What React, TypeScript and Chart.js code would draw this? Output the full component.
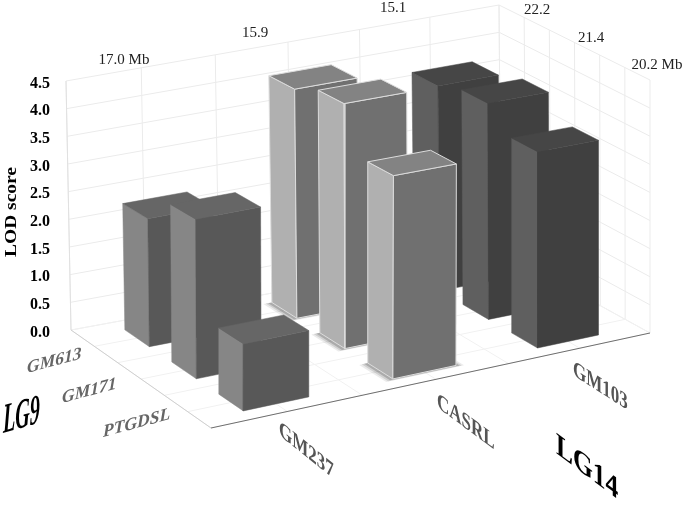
import React, { useEffect, useRef } from "react";
import { Chart, registerables } from "chart.js";

Chart.register(...registerables);

// ---- data ----
const rowLabels = ["GM613", "GM171", "PTGDSL"];
const colLabels = ["GM237", "CASRL", "GM103"];
const lodGM237 = [2.27, 2.76, 1.13];
const lodCASRL = [4.1, 4.3, 3.5];
const lodGM103 = [3.7, 3.85, 3.45];
const lodTicks = [0, 0.5, 1, 1.5, 2, 2.5, 3, 3.5, 4, 4.5];
const leftWallLabels = ["17.0 Mb", "15.9", "15.1"];
const rightWallLabels = ["22.2", "21.4", "20.2 Mb"];

// ---- projection of the box (u along the front edge, v towards the back, z = LOD) ----
const Z_MAX = 4.5;
const floorB = [211, 428], floorC = [650, 333], floorA = [71, 330], floorD = [501, 251];
const topB = [213, 158], topC = [650, 80], topA = [66, 81], topD = [499, 5];
const Y0_PX = 330;
const PX_PER_LOD = (330 - 81) / 4.5;
const HEIGHT = 507;
const PERSPECTIVE_U = 1.052;

const bil = (p: number[][], u: number, v: number, k: number) =>
  p[0][k] * (1 - u) * (1 - v) + p[1][k] * u * (1 - v) + p[2][k] * (1 - u) * v + p[3][k] * u * v;

function project(uIn: number, v: number, z: number) {
  const u = (PERSPECTIVE_U * uIn) / (1 + (PERSPECTIVE_U - 1) * uIn);
  const t = z / Z_MAX;
  const f = [floorB, floorC, floorA, floorD];
  const c = [topB, topC, topA, topD];
  const px = bil(f, u, v, 0) * (1 - t) + bil(c, u, v, 0) * t;
  const py = bil(f, u, v, 1) * (1 - t) + bil(c, u, v, 1) * t;
  // pixel position expressed in the chart's own data units
  return { x: px, y: (Y0_PX - py) / PX_PER_LOD };
}

const face = (pts: { x: number; y: number }[], color: string, edge?: string) => ({
  data: [...pts, pts[0]],
  showLine: true,
  fill: "shape",
  backgroundColor: color,
  borderColor: edge ?? color,
  borderWidth: edge ? 1 : 0.5,
  pointRadius: 0,
  clip: false,
});

const rule = (a: { x: number; y: number }, b: { x: number; y: number }, color: string, w = 1) => ({
  data: [a, b],
  showLine: true,
  fill: false,
  borderColor: color,
  borderWidth: w,
  pointRadius: 0,
  clip: false,
});

const palettes = [
  { left: "#868686", right: "#585858", top: "#666666" },
  { left: "#b0b0b0", right: "#707070", top: "#838383", edge: "#dcdcdc", shadow: true },
  { left: "#5f5f5f", right: "#404040", top: "#464646" },
];

const HALF_U = 0.072;
const HALF_V = 0.087;

function buildDatasets() {
  const out: any[] = [];
  const GRID = "#ebebeb";
  const FLOOR = "#f1f1f1";
  // walls
  for (const z of lodTicks) {
    out.push(rule(project(0, 1, z), project(1, 1, z), GRID));
    out.push(rule(project(1, 1, z), project(1, 0, z), GRID));
  }
  for (let i = 0; i <= 6; i++) {
    out.push(rule(project(i / 6, 1, 0), project(i / 6, 1, Z_MAX), GRID));
    out.push(rule(project(1, i / 6, 0), project(1, i / 6, Z_MAX), GRID));
    out.push(rule(project(i / 6, 0, 0), project(i / 6, 1, 0), FLOOR));
    out.push(rule(project(0, i / 6, 0), project(1, i / 6, 0), FLOOR));
  }
  // left wall's near vertical edge and floor edges
  out.push(rule(project(0, 1, 0), project(0, 1, Z_MAX), "#e0e0e0"));
  out.push(rule(project(0, 0, 0), project(0, 1, 0), "#cfcfcf"));
  out.push(rule(project(0, 0, 0), project(1, 0, 0), "#6e6e6e"));

  const cols = [lodGM237, lodCASRL, lodGM103];
  // far rows first, far columns first (v = 5/6 is GM613)
  for (let r = 0; r < rowLabels.length; r++) {
    const v = (5 - 2 * r) / 6;
    for (let c = cols.length - 1; c >= 0; c--) {
      const u = (1 + 2 * c) / 6;
      const z = cols[c][r];
      const pal: any = palettes[c];
      const u0 = u - HALF_U, u1 = u + HALF_U, v0 = v - HALF_V, v1 = v + HALF_V;
      if (pal.shadow) {
        for (const [g, a] of [[0.014, 0.1], [0.01, 0.16], [0.006, 0.25]]) {
          out.push(
            face(
              [project(u0 - g * 1.4, v1, 0), project(u0 - g * 1.4, v0 - g, 0), project(u1 + g, v0 - g, 0), project(u1 + g, v1, 0)],
              `rgba(60,60,60,${a})`,
              "rgba(0,0,0,0)"
            )
          );
        }
      }
      out.push(face([project(u0, v0, 0), project(u0, v1, 0), project(u0, v1, z), project(u0, v0, z)], pal.left, pal.edge));
      out.push(face([project(u0, v0, 0), project(u1, v0, 0), project(u1, v0, z), project(u0, v0, z)], pal.right, pal.edge));
      out.push(face([project(u0, v0, z), project(u1, v0, z), project(u1, v1, z), project(u0, v1, z)], pal.top, pal.edge));
    }
  }
  return out.reverse(); // Chart.js paints the first dataset last
}

// ---- text layout ----
const SERIF = '"Liberation Serif", "Times New Roman", serif';
const wallLabelPos = [[124, 60], [255, 33], [393, 8], [537, 10], [591, 38], [657, 65]];
const rowLabelPos = [[27, 373], [62, 403], [103, 437]];
const colLabelPos = [[279, 435, 0.8], [437, 407, 0.74], [573, 375, 0.64]];

const textPlugin = {
  id: "boxText",
  afterDatasetsDraw(chart: any) {
    const ctx: CanvasRenderingContext2D = chart.ctx;
    ctx.save();

    ctx.fillStyle = "#222";
    ctx.font = `15px ${SERIF}`;
    ctx.textAlign = "center";
    ctx.textBaseline = "middle";
    [...leftWallLabels, ...rightWallLabels].forEach((t, i) => {
      ctx.fillText(t, wallLabelPos[i][0], wallLabelPos[i][1]);
    });

    ctx.save();
    ctx.translate(12, 212);
    ctx.rotate(-Math.PI / 2);
    ctx.scale(1.18, 1);
    ctx.fillStyle = "#000";
    ctx.font = `bold 16.5px ${SERIF}`;
    ctx.fillText("LOD score", 0, 0);
    ctx.restore();

    ctx.textAlign = "left";
    ctx.textBaseline = "alphabetic";
    ctx.fillStyle = "#666";
    ctx.font = `italic bold 17.5px ${SERIF}`;
    rowLabels.forEach((t, i) => {
      ctx.save();
      ctx.transform(1, -0.27, 0, 1, rowLabelPos[i][0], rowLabelPos[i][1]);
      ctx.fillText(t, 0, 0);
      ctx.restore();
    });

    ctx.save();
    ctx.fillStyle = "#000";
    ctx.font = `italic bold 42px ${SERIF}`;
    ctx.transform(0.48, -0.14, 0, 1, 3, 433);
    ctx.fillText("LG9", 0, 0);
    ctx.restore();

    ctx.fillStyle = "#555";
    ctx.font = `bold 17px ${SERIF}`;
    colLabels.forEach((t, i) => {
      ctx.save();
      const [x, y, s] = colLabelPos[i];
      ctx.transform(1, s, 0, 1.35, x, y);
      ctx.fillText(t, 0, 0);
      ctx.restore();
    });

    ctx.save();
    ctx.fillStyle = "#000";
    ctx.font = `bold 25px ${SERIF}`;
    ctx.transform(1.02, 0.76, 0, 1.25, 556, 453);
    ctx.fillText("LG14", 0, 0);
    ctx.restore();

    ctx.restore();
  },
};

export default function App() {
  const ref = useRef<HTMLCanvasElement>(null);
  useEffect(() => {
    const chart = new Chart(ref.current!, {
      type: "scatter",
      data: { datasets: buildDatasets() as any },
      plugins: [textPlugin],
      options: {
        responsive: false,
        animation: false,
        events: [],
        layout: { padding: 0 },
        plugins: {
          legend: { display: false },
          tooltip: { enabled: false },
          filler: { drawTime: "beforeDatasetDraw", propagate: false },
        } as any,
        scales: {
          x: { type: "linear", display: false, min: 60, max: 685 },
          y: {
            type: "linear",
            min: (Y0_PX - HEIGHT) / PX_PER_LOD,
            max: Y0_PX / PX_PER_LOD,
            grid: { display: false },
            border: { display: false },
            afterBuildTicks(scale: any) {
              scale.ticks = lodTicks.map((value) => ({ value }));
            },
            afterFit(scale: any) {
              scale.width = 60;
              scale.paddingTop = 0;
              scale.paddingBottom = 0;
            },
            ticks: {
              autoSkip: false,
              padding: 2,
              labelOffset: 2.5,
              color: "#000",
              font: { family: SERIF, size: 16, weight: "bold" },
              callback: (v: any) => Number(v).toFixed(1),
            },
          },
        },
      },
    });
    return () => chart.destroy();
  }, []);
  return (
    <canvas
      ref={ref}
      width={685}
      height={507}
      style={{ position: "absolute", left: 0, top: 0, display: "block" }}
    />
  );
}
